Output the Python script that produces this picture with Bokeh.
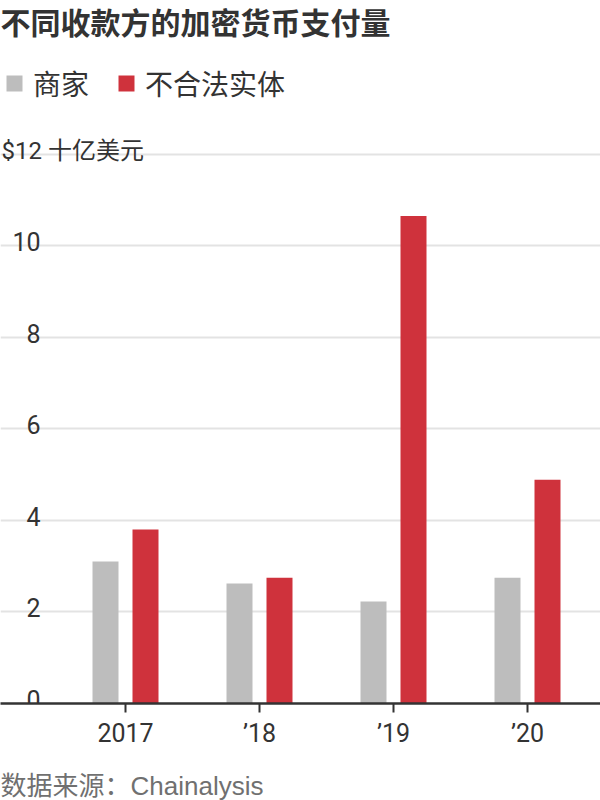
from bokeh.plotting import figure
from bokeh.models import (Range1d, FixedTicker, Grid, Label, Legend, LegendItem,
                          ColumnDataSource, Title)
from bokeh.transform import dodge
from bokeh.core.properties import value
from bokeh.embed import file_html
from bokeh.resources import INLINE

# ---- data ----
years = ["2017", "\u201918", "\u201919", "\u201920"]
merchants = [3.10, 2.62, 2.23, 2.75]
illicit = [3.80, 2.75, 10.65, 4.89]
y_ticks = [0, 2, 4, 6, 8, 10]
y_tick_labels = ["0", "2", "4", "6", "8", "10"]
y_top = 12
y_top_label = "$12 十亿美元"
title_text = "不同收款方的加密货币支付量"
legend_labels = ["商家", "不合法实体"]
source_text = "数据来源：Chainalysis"

# ---- style ----
GREY = "#bdbdbd"
RED = "#cf323c"
TEXT = "#333333"
CJK = "Noto Sans CJK SC"
NUM = "Roboto, Noto Sans CJK SC"

W, H = 600, 800
BOTTOM = 96
FRAME_H = H - BOTTOM          # 704
PX_PER_UNIT = 550 / 12        # vertical scale
CAT_PX = 134                  # horizontal px per category
FIRST_CAT_X = 125             # px from canvas left to first category

x_start = -FIRST_CAT_X / CAT_PX
x_end = (W - FIRST_CAT_X) / CAT_PX
y_end = FRAME_H / PX_PER_UNIT

xs = list(range(len(years)))
src = ColumnDataSource(dict(x=xs, m=merchants, i=illicit))

p = figure(width=W, height=H, output_backend="svg", toolbar_location=None,
           x_range=Range1d(x_start, x_end), y_range=Range1d(0, y_end),
           y_axis_location=None, min_border_left=0, min_border_right=0,
           min_border_top=0, min_border_bottom=BOTTOM, outline_line_color=None,
           background_fill_color="white", border_fill_color="white")

p.xgrid.visible = False
p.ygrid.visible = False

# grid
grid = Grid(dimension=1, ticker=FixedTicker(ticks=y_ticks[1:] + [y_top]),
            grid_line_color="#e3e3e3", grid_line_width=2)
p.add_layout(grid)

off = 20 / CAT_PX
bw = 26 / CAT_PX
r_m = p.vbar(x=dodge("x", -off, range=p.x_range), top="m", width=bw, source=src,
             fill_color=GREY, line_color=None)
r_i = p.vbar(x=dodge("x", off, range=p.x_range), top="i", width=bw, source=src,
             fill_color=RED, line_color=None)

# x axis
ax = p.xaxis[0]
ax.ticker = FixedTicker(ticks=xs)
ax.major_label_overrides = {i: y for i, y in enumerate(years)}
ax.axis_line_color = TEXT
ax.axis_line_width = 2.5
ax.major_tick_line_color = TEXT
ax.major_tick_line_width = 2
ax.major_tick_out = 9
ax.major_tick_in = 0
ax.minor_tick_line_color = None
ax.major_label_text_font = NUM
ax.major_label_text_font_size = "25px"
ax.major_label_text_color = TEXT
ax.major_label_standoff = 6
# blank axis label used only as spacing above the source line
ax.axis_label = " "
ax.axis_label_standoff = 0
ax.axis_label_text_font_size = "13px"

# y tick labels (inside the plot, above gridlines)
p.text(x=[x_start] * len(y_ticks), y=y_ticks, text=y_tick_labels,
       x_offset=40, y_offset=-4, text_align="right", text_baseline="alphabetic",
       text_font=value(NUM), text_font_size="25px", text_color=TEXT)
p.text(x=[x_start], y=[y_top], text=[y_top_label], x_offset=1, y_offset=-3,
       text_align="left", text_baseline="alphabetic",
       text_font=value(NUM), text_font_size="24px", text_color=TEXT)

# title
p.add_layout(Label(x=x_start, y=y_end, text=title_text, x_offset=0, y_offset=-20,
                   text_baseline="middle", text_font=CJK, text_font_size="30px",
                   text_font_style="bold", text_color=TEXT))

# legend
legend = Legend(items=[LegendItem(label=legend_labels[0], renderers=[r_m]),
                       LegendItem(label=legend_labels[1], renderers=[r_i])],
                orientation="horizontal", location=(4, 600),
                glyph_width=20, glyph_height=20, label_standoff=9, spacing=27,
                padding=0, margin=0, border_line_color=None,
                background_fill_alpha=0, label_text_font=CJK,
                label_text_font_size="28px", label_text_color=TEXT,
                label_text_baseline="middle")
p.add_layout(legend)

# source
p.add_layout(Title(text=source_text, align="left", offset=0, standoff=0,
                   text_font="Liberation Sans, Noto Sans CJK SC",
                   text_font_size="26px", text_font_style="normal",
                   text_color="#707070"), "below")

open("out.html", "w").write(file_html(p, INLINE))
